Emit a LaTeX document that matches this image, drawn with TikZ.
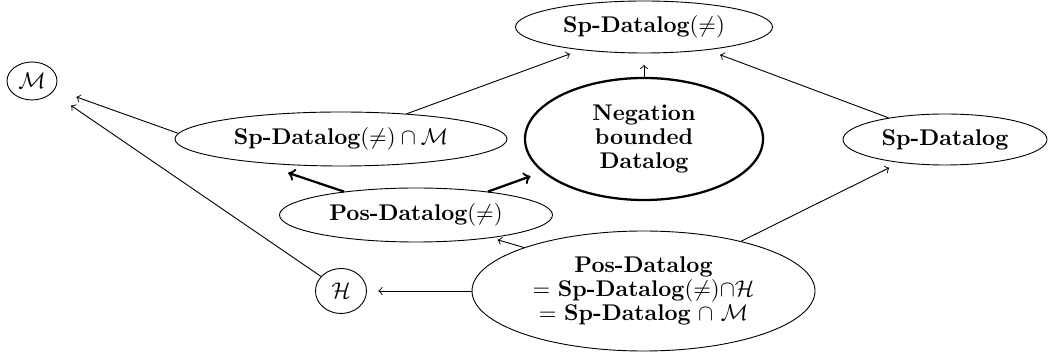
\documentclass[tikz,border=0pt]{standalone}
\usetikzlibrary{shapes.geometric}
\newlength\pxu
\setlength\pxu{0.4405pt}
\begin{document}
\begin{tikzpicture}[x=\pxu,y=-\pxu,
  cls/.style={ellipse,draw,inner sep=0pt,align=center,
    font=\fontsize{10}{10.6}\selectfont},
  mainclass/.style={cls,line width=1pt},
  incl/.style={->,shorten >=5pt},
  strict/.style={->,line width=1pt,shorten >=5.5pt}]
\useasboundingbox (0,0) rectangle (1049,356);

% classes
\node[cls,minimum width=50\pxu,minimum height=38\pxu] (m) at (32,81) {$\mathcal{M}$};
\node[cls,minimum width=257\pxu,minimum height=52\pxu] (spne) at (644,27)
  {\textbf{Sp-Datalog}$(\neq)$};
\node[cls,minimum width=332\pxu,minimum height=54\pxu] (spm) at (341,139)
  {\textbf{Sp-Datalog}$(\neq)\cap\mathcal{M}$};
\node[mainclass,minimum width=238\pxu,minimum height=122\pxu] (neg) at (644,139)
  {\textbf{Negation}\\\textbf{bounded}\\\textbf{Datalog}};
\node[cls,minimum width=204\pxu,minimum height=51\pxu] (sp) at (945,139.5)
  {\textbf{Sp-Datalog}};
\node[cls,minimum width=273\pxu,minimum height=54\pxu] (pne) at (416,215)
  {\textbf{Pos-Datalog}$(\neq)$};
\node[cls,minimum width=51\pxu,minimum height=45\pxu] (h) at (341,291) {$\mathcal{H}$};
\node[cls,minimum width=343\pxu,minimum height=120\pxu] (pd) at (643.5,291)
  {\textbf{Pos-Datalog}\\
   $=$ \textbf{Sp-Datalog}$(\neq)$$\cap$$\mathcal{H}$\\
   $=$ \textbf{Sp-Datalog} $\cap$ $\mathcal{M}$};

% inclusions
\draw[incl,shorten >=10pt] (spm.178) -- (m.-20);
\draw[incl,shorten >=10pt] (h.144) -- (m.-30);
\draw[incl] (spm.21) -- (spne.200);
\draw[incl] (neg.north) -- (spne.south);
\draw[incl,shorten >=6pt] (sp.159) -- (spne.-20.5);
\draw[strict,shorten >=14pt] (pne.162) -- (spm.196.6);
\draw[strict] (pne.18) -- (neg.198);
\draw[incl,shorten >=3pt] (pd.160) -- (pne.-17);
\draw[incl] (pd.west) -- (h.east);
\draw[incl] (pd.27) -- (sp.207.6);
\end{tikzpicture}
\end{document}
